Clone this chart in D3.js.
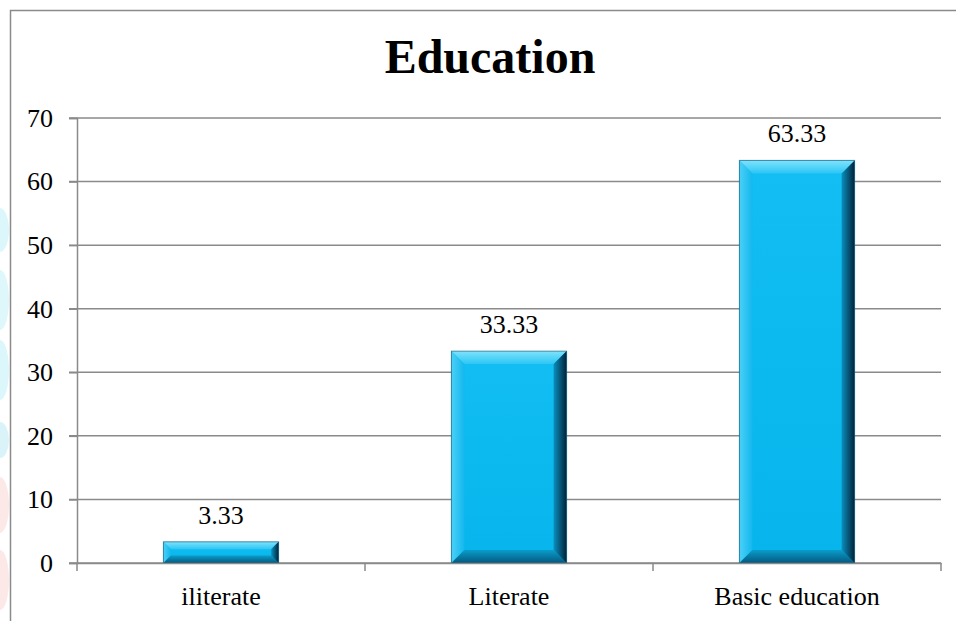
<!DOCTYPE html>
<html>
<head>
<meta charset="utf-8">
<script src="https://cdn.jsdelivr.net/npm/d3@7"></script>
<style>
  html, body { margin: 0; padding: 0; background: #fff; }
  svg { display: block; }
  svg text { font-family: "Liberation Serif", "Times New Roman", serif; }
</style>
</head>
<body>
<div id="chart"></div>
<script>
const categories = ["iliterate", "Literate", "Basic education"];
const values = [3.33, 33.33, 63.33];
const yTicks = [0, 10, 20, 30, 40, 50, 60, 70];

const W = 956, H = 621;
const margin = { top: 118, right: 15, bottom: 58, left: 77 };
const width = W - margin.left - margin.right;   // 864
const height = H - margin.top - margin.bottom;  // 445
const serif = "'Liberation Serif', 'Times New Roman', serif";

const svg = d3.select("#chart").append("svg")
  .attr("width", W)
  .attr("height", H);

const defs = svg.append("defs");

// faint decorative blobs on the left edge of the original page
const blobs = svg.append("g");
[[0, 230, 9, 22, "#dcf7fb"], [0, 300, 9, 30, "#def7fb"], [0, 370, 9, 30, "#dcf7fb"], [0, 440, 9, 18, "#daf3f9"],
 [0, 505, 9, 28, "#fde8e8"], [0, 580, 9, 30, "#fde8e8"]].forEach(([cx, cy, rx, ry, c]) => {
  blobs.append("ellipse").attr("cx", cx).attr("cy", cy).attr("rx", rx).attr("ry", ry).attr("fill", c);
});

// outer chart frame
svg.append("rect")
  .attr("x", 10.5).attr("y", 10.5)
  .attr("width", 980).attr("height", 640)
  .attr("fill", "none")
  .attr("stroke", "#8a8a8a")
  .attr("stroke-width", 1.5);

// gradients for the bevel sides
function grad(id, x2, y2, stops) {
  const g = defs.append("linearGradient").attr("id", id)
    .attr("x1", 0).attr("y1", 0).attr("x2", x2).attr("y2", y2);
  stops.forEach(([o, c]) => g.append("stop").attr("offset", o).attr("stop-color", c));
}
grad("bevTop", 0, 1, [[0, "#7fe2fb"], [1, "#2cc6f5"]]);
grad("bevLeft", 1, 0, [[0, "#4cd0f7"], [1, "#12b8ee"]]);
grad("bevRight", 1, 0, [[0, "#0a8fbe"], [1, "#00233a"]]);
grad("bevBottom", 0, 1, [[0, "#0a9ccb"], [1, "#035a80"]]);
grad("face", 0, 1, [[0, "#12bef3"], [1, "#07b5ec"]]);

const g = svg.append("g")
  .attr("transform", `translate(${margin.left},${margin.top})`);

const x = d3.scaleBand()
  .domain(categories)
  .range([0, width])
  .paddingInner(0.6)
  .paddingOuter(0.3);

const xCat = d3.scaleBand()
  .domain(categories)
  .range([0, width])
  .padding(0);

const y = d3.scaleLinear()
  .domain([0, 70])
  .range([height, 0]);

// Gridlines
g.append("g")
  .selectAll("line")
  .data(yTicks)
  .join("line")
  .attr("x1", -8)
  .attr("x2", width)
  .attr("y1", d => y(d))
  .attr("y2", d => y(d))
  .attr("stroke", "#8a8a8a")
  .attr("stroke-width", 1.5);

// Y-axis
const yAxis = g.append("g")
  .call(d3.axisLeft(y).tickValues(yTicks).tickSize(8).tickPadding(16));
yAxis.attr("font-family", serif);
yAxis.select(".domain").attr("stroke", "#8a8a8a").attr("stroke-width", 1.5);
yAxis.selectAll(".tick line").attr("stroke", "#8a8a8a").attr("stroke-width", 1.5);
yAxis.selectAll("text")
  .style("font-size", "26px")
  .attr("fill", "#000");

// Bars with bevel
const bars = g.append("g")
  .selectAll("g")
  .data(categories.map((c, i) => ({ cat: c, val: values[i] })))
  .join("g");

bars.each(function (d) {
  const x0 = x(d.cat), x1 = x0 + x.bandwidth();
  const y0 = y(d.val), y1 = y(0);
  const b = Math.min(13, (y1 - y0) * 0.35);
  const sel = d3.select(this);
  sel.append("rect")
    .attr("x", x0).attr("y", y0)
    .attr("width", x1 - x0).attr("height", y1 - y0)
    .attr("fill", "url(#face)");
  const poly = (pts, fill) => sel.append("polygon")
    .attr("points", pts.map(p => p.join(",")).join(" "))
    .attr("fill", fill);
  poly([[x0, y0], [x1, y0], [x1 - b, y0 + b], [x0 + b, y0 + b]], "url(#bevTop)");
  poly([[x0, y0], [x0 + b, y0 + b], [x0 + b, y1 - b], [x0, y1]], "url(#bevLeft)");
  poly([[x0, y1], [x0 + b, y1 - b], [x1 - b, y1 - b], [x1, y1]], "url(#bevBottom)");
  poly([[x1, y0], [x1, y1], [x1 - b, y1 - b], [x1 - b, y0 + b]], "url(#bevRight)");
  sel.append("rect")
    .attr("x", x0).attr("y", y0)
    .attr("width", x1 - x0).attr("height", y1 - y0)
    .attr("fill", "none")
    .attr("stroke", "#0b4f6e")
    .attr("stroke-opacity", 0.6)
    .attr("stroke-width", 1);
});

// Value labels
g.append("g")
  .selectAll("text")
  .data(values)
  .join("text")
  .attr("x", (d, i) => x(categories[i]) + x.bandwidth() / 2)
  .attr("y", d => y(d) - 18)
  .attr("text-anchor", "middle")
  .style("font-size", "26px")
  .attr("fill", "#000")
  .text(d => d.toFixed(2));

// X-axis
const xAxis = g.append("g")
  .attr("transform", `translate(0,${height})`)
  .call(d3.axisBottom(xCat).tickSize(0).tickPadding(24));
xAxis.attr("font-family", serif);
xAxis.select(".domain").attr("stroke", "#8a8a8a").attr("stroke-width", 1.5);
xAxis.selectAll("text")
  .style("font-size", "26px")
  .attr("fill", "#000");

// category separator ticks
xAxis.append("g")
  .selectAll("line")
  .data([0, 1, 2, 3])
  .join("line")
  .attr("x1", i => i * xCat.step())
  .attr("x2", i => i * xCat.step())
  .attr("y1", 0)
  .attr("y2", 8)
  .attr("stroke", "#8a8a8a")
  .attr("stroke-width", 1.5);

// Title
svg.append("text")
  .attr("x", 490)
  .attr("y", 73)
  .attr("text-anchor", "middle")
  .style("font-size", "48px")
  .style("font-weight", "bold")
  .attr("fill", "#000")
  .text("Education");
</script>
</body>
</html>
